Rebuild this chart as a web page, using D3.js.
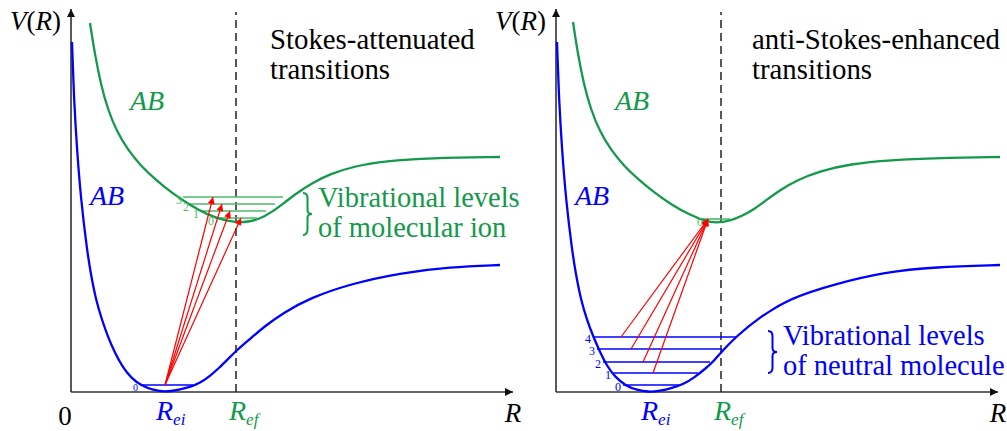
<!DOCTYPE html>
<html>
<head>
<meta charset="utf-8">
<script src="https://cdn.jsdelivr.net/npm/d3@7"></script>
</head>
<body style="margin:0">
<svg id="chart" width="1007" height="431"></svg>
<script>
// Potential curves as (R, V) pairs, arbitrary units
const neutralLeft = [[0.1,35.0],[0.3,29.2],[0.6,24.2],[1.0,19.2],[1.6,14.2],[2.0,11.7],[2.5,9.2],[3.1,7.2],[3.7,5.5],[4.4,3.9],[5.1,2.6],[6.0,1.4],[7.1,0.6],[8.2,0.2],[9.4,0],[10.7,0.2],[11.9,0.5],[12.9,0.9],[13.9,1.6],[14.8,2.4],[15.6,3.2],[16.5,4.1],[17.9,5.3],[19.4,6.6],[21.2,7.9],[23.9,9.4],[27.9,10.8],[32.9,11.9],[37.9,12.5],[42.9,12.7]];
const ionLeft = [[1.9,36.9],[2.4,33.7],[3.0,30.7],[3.7,28.2],[4.6,26.0],[5.7,24.2],[7.0,22.6],[8.5,21.2],[10.1,19.9],[11.9,18.7],[13.7,17.7],[15.5,17.1],[17.3,16.9],[18.9,17.3],[20.1,18.0],[21.3,18.9],[22.6,19.9],[24.1,20.9],[25.9,21.8],[28.4,22.6],[31.4,23.1],[35.9,23.4],[42.9,23.5]];
const neutralRight = [[0.1,35.0],[0.3,29.2],[0.6,24.2],[1.0,19.2],[1.6,14.2],[2.0,11.7],[2.5,9.2],[3.1,7.2],[3.7,5.6],[4.4,4.0],[5.1,2.6],[5.9,1.5],[7.0,0.6],[8.1,0.2],[9.2,0],[10.4,0.1],[11.6,0.4],[12.8,0.8],[13.9,1.5],[14.9,2.3],[15.8,3.1],[16.7,4.2],[18.1,5.6],[20.1,7.3],[23.4,9.4],[27.9,10.8],[32.9,12.0],[37.9,12.5],[44.4,12.7]];
const ionRight = [[1.7,37.0],[2.2,33.7],[2.8,30.7],[3.5,28.2],[4.4,26.0],[5.5,24.2],[6.8,22.6],[8.3,21.2],[9.9,19.9],[11.6,18.7],[13.4,17.7],[14.9,17.1],[16.0,16.9],[17.4,17.1],[18.6,17.6],[19.7,18.2],[20.9,19.1],[22.4,20.2],[24.1,21.2],[26.4,22.1],[29.4,22.8],[33.4,23.2],[38.4,23.4],[44.4,23.5]];

// Vibrational levels: quantum number, energy, left/right turning R
const ionLevelsLeft = [[0,17.4,14.4,18.6],[1,18.1,12.9,19.5],[2,18.8,11.9,20.4],[3,19.5,11.2,21.2]];
const neutralLevelsLeft = [[0,0.7,6.9,12.2]];
const ionLevelsRight = [[0,17.3,14.2,17.4]];
const neutralLevelsRight = [[0,0.7,6.7,12.3],[1,1.9,5.7,14.2],[2,3.0,4.7,15.4],[3,4.3,4.1,16.6],[4,5.5,3.7,18.1]];

// Transitions: [R start, V start, R end, V end]
const arrowsLeft = [[9.4,0.7,17.0,17.4],[9.4,0.7,15.9,18.1],[9.4,0.7,15.1,18.8],[9.4,0.7,14.2,19.5]];
const arrowsRight = [[9.7,1.9,15.2,17.3],[8.7,3.0,15.2,17.3],[7.5,4.3,15.2,17.3],[6.5,5.5,15.2,17.3]];

const R_EI = 9.4, R_EF = 16.5;
const titlesLeft = ["Stokes-attenuated", "transitions"];
const titlesRight = ["anti-Stokes-enhanced", "transitions"];
const noteLeft = ["Vibrational levels", "of molecular ion"];
const noteRight = ["Vibrational levels", "of neutral molecule"];

const BLUE = "#0000ff", GREEN = "#13994a", LGREEN = "#4dba6a", RED = "#ff0000";
const SERIF = "Tinos, 'Liberation Serif', 'Times New Roman', serif";

const probe = document.createElement("canvas").getContext("2d");
["", "italic "].forEach(s => { probe.font = `${s}24px ${SERIF}`; probe.measureText("Stokes AB R"); });

const svg = d3.select("#chart").attr("font-family", SERIF);
const defs = svg.append("defs");
defs.append("marker").attr("id", "axhead")
    .attr("viewBox", "0 0 10 10").attr("refX", 10).attr("refY", 5)
    .attr("markerWidth", 10).attr("markerHeight", 8)
    .attr("markerUnits", "userSpaceOnUse").attr("orient", "auto")
  .append("path").attr("d", "M0,0L10,5L0,10z").attr("fill", "#111");
defs.append("marker").attr("id", "redhead")
    .attr("viewBox", "0 0 10 10").attr("refX", 10).attr("refY", 5)
    .attr("markerWidth", 9).attr("markerHeight", 7)
    .attr("markerUnits", "userSpaceOnUse").attr("orient", "auto")
  .append("path").attr("d", "M0,0L10,5L0,10z").attr("fill", RED);

function label(x, y, size, color, italic) {
    const t = svg.append("text").attr("x", x).attr("y", y)
        .attr("font-size", size).attr("font-family", SERIF)
        .style("font-family", SERIF).attr("fill", color);
    if (italic) t.attr("font-style", "italic");
    return t;
}

function brace(x0, top, bot, color) {
    const w = 9, h = bot - top, m = (top + bot) / 2, c = x0 + w / 2;
    const p = d3.path();
    p.moveTo(x0, top);
    p.quadraticCurveTo(c, top, c, top + h * 0.13);
    p.lineTo(c, m - h * 0.09);
    p.quadraticCurveTo(c, m, x0 + w, m);
    p.quadraticCurveTo(c, m, c, m + h * 0.09);
    p.lineTo(c, bot - h * 0.13);
    p.quadraticCurveTo(c, bot, x0, bot);
    svg.append("path").attr("d", p.toString()).attr("fill", "none")
        .attr("stroke", color).attr("stroke-width", 2);
}

function drawPanel(ox, cfg) {
    const g = svg.append("g");
    const x = d3.scaleLinear().domain([0, 44.2]).range([ox, ox + 442]);
    const y = d3.scaleLinear().domain([0, 38.3]).range([392, 9]);
    const line = d3.line().x(d => x(d[0])).y(d => y(d[1])).curve(d3.curveBasis);

    // axes
    g.append("line").attr("x1", x(0)).attr("y1", y(0)).attr("x2", x(44.2)).attr("y2", y(0))
        .attr("stroke", "#666").attr("stroke-width", 2).attr("marker-end", "url(#axhead)");
    g.append("line").attr("x1", x(0)).attr("y1", y(0)).attr("x2", x(0)).attr("y2", y(38.3))
        .attr("stroke", "#222").attr("stroke-width", 1.5).attr("marker-end", "url(#axhead)");

    // R_ef dashed line
    g.append("line").attr("x1", x(R_EF)).attr("x2", x(R_EF)).attr("y1", y(0)).attr("y2", y(38))
        .attr("stroke", "#222").attr("stroke-width", 1.5).attr("stroke-dasharray", "8,5");

    // vibrational levels
    cfg.ionLevels.forEach(l => {
        g.append("line").attr("x1", x(l[2])).attr("x2", x(l[3])).attr("y1", y(l[1])).attr("y2", y(l[1]))
            .attr("stroke", LGREEN).attr("stroke-width", 1.6);
    });
    cfg.neutralLevels.forEach(l => {
        g.append("line").attr("x1", x(l[2])).attr("x2", x(l[3])).attr("y1", y(l[1])).attr("y2", y(l[1]))
            .attr("stroke", BLUE).attr("stroke-width", 1.5);
    });

    // curves
    g.append("path").attr("d", line(cfg.neutral)).attr("fill", "none")
        .attr("stroke", BLUE).attr("stroke-width", 2.3);
    g.append("path").attr("d", line(cfg.ion)).attr("fill", "none")
        .attr("stroke", GREEN).attr("stroke-width", 2.3);

    // level numbers on top of the curves
    cfg.ionLevels.forEach(l => {
        label(x(l[2]) + cfg.ionDigitDx, y(l[1]) + 7, 12, LGREEN).attr("text-anchor", "end").text(l[0]);
    });
    cfg.neutralLevels.forEach(l => {
        label(x(l[2]) - 2, y(l[1]) + 6, cfg.digit, BLUE).attr("text-anchor", "end").text(l[0]);
    });

    // transitions
    cfg.arrows.forEach(a => {
        g.append("line").attr("x1", x(a[0])).attr("y1", y(a[1])).attr("x2", x(a[2])).attr("y2", y(a[3]))
            .attr("stroke", RED).attr("stroke-width", 1.2).attr("marker-end", "url(#redhead)");
    });

    // axis labels
    const vr = label(ox - 10, 30, 27, "#000").attr("text-anchor", "end");
    vr.append("tspan").attr("font-style", "italic").text("V");
    vr.append("tspan").text("(");
    vr.append("tspan").attr("font-style", "italic").text("R");
    vr.append("tspan").text(")");

    label(x(44.2), 422, 27, "#000", true).attr("text-anchor", "middle").text("R");
    if (cfg.zero) label(ox - 6, 425, 27, "#000").attr("text-anchor", "middle").text("0");

    const sub = (xx, color, s) => {
        const t = label(xx, 420, 28, color, true);
        t.append("tspan").text("R");
        t.append("tspan").attr("font-size", 17).attr("dy", 5).text(s);
    };
    sub(x(R_EI) - 9, BLUE, "ei");
    sub(x(R_EF) - 7, GREEN, "ef");

    label(cfg.abIon[0], cfg.abIon[1], 28, GREEN, true).text("AB");
    label(cfg.abNeu[0], cfg.abNeu[1], 28, BLUE, true).text("AB");

    cfg.title.forEach((s, i) => {
        label(cfg.titlePos[0], cfg.titlePos[1] + i * 30, 28.8, "#000").text(s);
    });
    cfg.note.forEach((s, i) => {
        label(cfg.notePos[0], cfg.notePos[1] + i * 30, 28.5, cfg.noteColor).text(s);
    });
    brace(cfg.notePos[0] - 15, cfg.notePos[1] - 14, cfg.notePos[1] + 28, cfg.noteColor);
}

drawPanel(71, {
    neutral: neutralLeft, ion: ionLeft,
    ionLevels: ionLevelsLeft, neutralLevels: neutralLevelsLeft,
    arrows: arrowsLeft, digit: 10, zero: true, ionDigitDx: -1,
    abIon: [130, 110], abNeu: [90, 205],
    title: titlesLeft, titlePos: [270, 49],
    note: noteLeft, notePos: [318, 207], noteColor: GREEN
});
drawPanel(556, {
    neutral: neutralRight, ion: ionRight,
    ionLevels: ionLevelsRight, neutralLevels: neutralLevelsRight,
    arrows: arrowsRight, digit: 12, zero: false, ionDigitDx: 5,
    abIon: [615, 110], abNeu: [575, 205],
    title: titlesRight, titlePos: [752, 49],
    note: noteRight, notePos: [783, 345], noteColor: BLUE
});
</script>
</body>
</html>
